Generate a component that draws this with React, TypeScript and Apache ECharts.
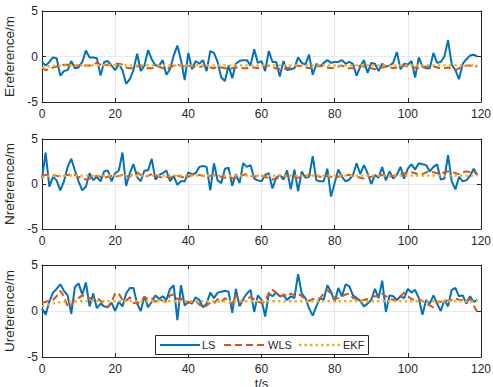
import React, { useEffect, useRef } from "react";
import * as echarts from "echarts";

const T: number[] = Array.from({ length: 120 }, (_, i) => i);

const E_LS = [
  -0.6, -1.0, -0.6, -0.1, -0.2, -2.1, -1.6, -1.5, -0.5, -1.3,
  -1.2, -0.6, 0.65, -0.1, -0.1, -0.2, -2.1, -0.6, -0.5, -1.0,
  -1.5, -0.8, -1.5, -3.0, -2.5, -1.5, 0.3, -1.6, -1.0, 0.7,
  -0.3, -1.0, -1.0, -0.4, -2.0, -1.4, 0.1, 1.2, -0.4, -2.6,
  0.4, -1.4, -0.5, -0.8, -0.4, -1.6, 0.6, 0.4, -0.6, -2.3,
  -2.7, -1.0, -2.4, -0.8, -0.5, -0.4, -0.4, -1.0, 0.8, -0.7,
  -0.5, -1.6, 0.6, -0.6, -0.6, -2.2, -0.5, -1.5, -1.4, -1.3,
  -0.1, -0.7, -0.9, 0.2, -2.0, -0.8, -1.1, -0.7, -0.4, -0.7,
  -0.6, -0.6, -0.4, -0.8, -0.6, -0.8, -2.1, -1.1, -0.4, -1.8,
  -0.7, -0.8, -1.6, -0.8, -1.1, -1.0, -0.7, 0.5, -1.4, -0.8,
  -0.9, -0.5, -2.3, -0.1, -1.1, -1.3, -1.3, 0.4, -0.7, -0.6,
  0.0, 1.8, -0.9, -1.5, -2.5, -0.8, -0.3, 0.1, 0.2, 0.0,
];
const E_WLS = [
  -1.2, -1.5, -1.4, -1.2, -1.1, -1.0, -0.9, -0.9, -1.0, -1.0,
  -1.0, -1.0, -1.0, -1.0, -0.9, -0.7, -0.9, -1.0, -0.9, -0.9,
  -0.8, -0.8, -0.9, -1.2, -1.3, -1.3, -1.1, -1.0, -1.2, -1.3,
  -1.3, -1.2, -1.1, -1.3, -1.4, -1.2, -1.0, -0.9, -1.0, -1.1,
  -1.0, -1.1, -1.2, -1.2, -1.0, -1.1, -1.2, -1.3, -1.1, -1.2,
  -1.3, -1.4, -1.3, -1.2, -1.2, -1.3, -1.3, -1.2, -1.2, -1.3,
  -1.2, -1.1, -1.0, -1.2, -1.3, -1.4, -1.4, -1.3, -1.2, -1.1,
  -1.0, -1.1, -1.2, -1.3, -1.2, -1.1, -1.0, -1.1, -1.2, -1.3,
  -1.2, -1.1, -1.0, -1.2, -1.3, -1.3, -1.1, -1.0, -1.1, -1.2,
  -1.3, -1.4, -1.3, -1.2, -1.1, -1.2, -1.3, -1.2, -1.1, -1.0,
  -1.1, -1.2, -1.2, -1.3, -1.2, -1.1, -1.0, -1.1, -1.2, -1.3,
  -1.3, -1.2, -1.4, -1.5, -1.3, -1.1, -1.0, -1.0, -1.1, -1.1,
];
const E_EKF = [
  -1.25, -1.15, -1.08, -1.04, -1.02, -1.0, -1.0, -0.99, -0.99, -0.98,
  -0.98, -0.98, -0.97, -0.97, -0.97, -0.96, -0.96, -0.96, -0.96, -0.96,
  -0.96, -0.96, -0.97, -0.97, -0.97, -0.97, -0.97, -0.97, -0.97, -0.97,
  -0.97, -0.97, -0.97, -0.98, -0.98, -0.98, -0.97, -0.97, -0.97, -0.97,
  -0.97, -0.97, -0.97, -0.97, -0.97, -0.97, -0.97, -0.98, -0.98, -0.98,
  -0.98, -0.98, -0.98, -0.98, -0.98, -0.98, -0.98, -0.98, -0.98, -0.98,
  -0.98, -0.98, -0.98, -0.98, -0.98, -0.98, -0.98, -0.98, -0.98, -0.98,
  -0.98, -0.98, -0.98, -0.98, -0.98, -0.98, -0.98, -0.98, -0.98, -0.98,
  -0.98, -0.98, -0.98, -0.98, -0.98, -0.98, -0.98, -0.98, -0.98, -0.98,
  -0.98, -0.98, -0.98, -0.98, -0.98, -0.98, -0.98, -0.97, -0.97, -0.97,
  -0.97, -0.97, -0.97, -0.97, -0.97, -0.97, -0.97, -0.97, -0.97, -0.97,
  -0.97, -0.97, -0.97, -0.97, -0.97, -0.97, -0.97, -0.97, -0.97, -0.97,
];

const N_LS = [
  0.6, 3.5, -0.3, 0.8, 0.4, -0.7, 0.3, 1.9, 2.8, 1.5,
  0.3, -0.7, -0.3, 1.2, 0.4, 0.8, 0.3, 1.4, 1.5, 0.3,
  1.2, 1.5, 3.5, -0.2, 1.2, 2.2, 0.8, 0.3, 1.5, 1.5,
  2.8, 0.5, 1.0, 1.2, 1.5, 0.3, 0.9, -0.1, 0.3, 0.3,
  1.3, 1.1, 1.2, 1.9, 2.0, 1.9, -0.7, 2.3, 0.4, 0.1,
  1.7, 1.8, -0.2, 1.1, 0.1, 2.3, 1.9, 2.1, 0.6, 0.4,
  0.3, 1.0, 1.2, -0.5, 0.7, 1.0, 0.5, 1.5, -0.6, 1.6,
  -0.8, 1.4, 0.7, 0.8, 3.1, 0.4, 0.3, 0.3, 1.7, -1.4,
  0.1, 1.6, 0.8, 0.3, 0.5, 1.0, 2.3, 1.1, 2.1, 1.2,
  0.0, 1.0, 0.7, 1.9, 0.4, 1.4, 0.6, 1.0, 1.9, 0.6,
  1.7, 2.2, 1.6, 2.3, 2.2, 2.1, 1.4, 1.9, 2.2, 0.5,
  0.6, 3.2, 0.3, -0.6, 0.8, 0.3, 0.4, 0.9, 1.7, 1.0,
];
const N_WLS = [
  0.9, 1.0, 1.1, 1.0, 0.9, 0.8, 0.9, 1.0, 1.1, 1.0,
  0.8, 0.6, 0.5, 0.6, 0.8, 0.9, 0.8, 0.7, 0.8, 0.9,
  0.8, 0.9, 1.0, 0.9, 0.8, 1.2, 1.3, 1.0, 0.8, 0.9,
  1.1, 1.0, 0.8, 0.7, 0.8, 0.7, 0.8, 0.9, 0.8, 0.7,
  0.8, 1.0, 1.1, 1.0, 0.9, 0.8, 0.9, 1.0, 0.9, 0.8,
  0.7, 0.8, 0.6, 0.7, 0.8, 1.0, 1.1, 0.9, 0.8, 0.9,
  0.9, 0.8, 0.6, 0.5, 0.6, 0.7, 0.8, 0.9, 0.9, 0.8,
  0.7, 0.8, 0.9, 1.0, 1.0, 0.9, 0.8, 0.8, 0.9, 0.8,
  0.7, 0.8, 0.9, 1.0, 1.0, 0.9, 0.8, 0.7, 0.6, 0.7,
  0.8, 0.9, 0.9, 1.0, 0.9, 0.8, 0.9, 1.0, 1.1, 1.2,
  1.2, 1.3, 1.2, 1.0, 1.1, 1.3, 1.4, 1.3, 1.2, 1.1,
  1.3, 1.4, 1.4, 1.2, 1.1, 1.3, 1.4, 1.3, 1.4, 1.0,
];
const N_EKF = [
  0.75, 0.82, 0.86, 0.88, 0.9, 0.91, 0.92, 0.92, 0.92, 0.93,
  0.93, 0.93, 0.93, 0.93, 0.93, 0.93, 0.93, 0.93, 0.93, 0.93,
  0.93, 0.93, 0.93, 0.93, 0.94, 0.94, 0.94, 0.94, 0.94, 0.94,
  0.94, 0.94, 0.94, 0.94, 0.94, 0.94, 0.94, 0.94, 0.94, 0.94,
  0.94, 0.94, 0.94, 0.94, 0.94, 0.94, 0.94, 0.94, 0.94, 0.94,
  0.94, 0.94, 0.94, 0.94, 0.94, 0.94, 0.94, 0.94, 0.94, 0.94,
  0.94, 0.94, 0.94, 0.94, 0.94, 0.94, 0.94, 0.94, 0.94, 0.94,
  0.94, 0.94, 0.94, 0.94, 0.94, 0.94, 0.94, 0.94, 0.94, 0.94,
  0.94, 0.94, 0.94, 0.94, 0.94, 0.94, 0.94, 0.94, 0.94, 0.94,
  0.94, 0.94, 0.94, 0.94, 0.94, 0.94, 0.94, 0.94, 0.94, 0.94,
  0.94, 0.94, 0.94, 0.94, 0.94, 0.94, 0.94, 0.94, 0.94, 0.94,
  0.94, 0.94, 0.94, 0.94, 0.94, 0.94, 0.94, 0.94, 0.94, 0.94,
];

const U_LS = [
  0.3, -0.4, 1.0, 2.0, 2.4, 2.9, 2.2, 1.7, -0.3, 2.6,
  3.0, 1.8, 3.1, 0.5, 1.9, 0.3, 0.8, 0.5, 0.4, 0.9,
  0.0, 1.0, 0.5, 1.9, 2.5, 2.5, 0.8, 0.0, 1.6, 0.4,
  1.0, 1.7, 1.3, 1.6, 1.2, 2.4, 2.8, -1.0, 2.8, 0.6,
  1.0, 0.8, 1.5, 1.2, 0.4, 0.8, 2.0, 1.4, 2.0, 2.1,
  2.2, 2.1, -0.2, 2.4, 0.5, 1.3, 1.9, 2.3, -0.1, 1.7,
  1.2, -0.6, 1.9, 1.6, 2.0, 1.6, 1.7, 1.2, 1.6, 1.4,
  4.0, 1.9, 1.4, 0.3, -0.5, 0.5, 1.4, 1.2, 2.8, 2.1,
  1.0, 2.5, 1.6, 2.9, 2.7, 1.7, 1.4, 1.1, 0.5, 0.8,
  1.2, 2.4, 1.4, 3.3, -0.1, 1.7, 1.6, 1.2, 1.6, 1.4,
  2.4, 2.0, 2.3, 1.4, -0.4, 1.2, 0.8, 1.7, 0.8, 0.0,
  1.2, 0.5, 2.3, 2.5, 1.6, 1.7, 0.8, 1.6, 1.0, 1.2,
];
const U_WLS = [
  0.9, 1.0, 1.1, 1.2, 1.6, 2.2, 1.6, 0.5, 0.6, 1.3,
  1.4, 1.7, 1.5, 1.4, 1.4, 1.5, 1.1, 0.8, 0.4, 1.0,
  1.9, 1.9, 1.2, 1.1, 1.5, 0.9, 0.8, 1.1, 1.5, 1.3,
  1.4, 1.0, 1.3, 1.1, 1.0, 1.7, 1.8, 1.3, 1.3, 1.2,
  0.9, 0.9, 1.1, 0.7, 0.4, 0.6, 0.9, 0.8, 1.3, 1.0,
  1.4, 1.1, 0.7, 1.8, 0.9, 1.2, 1.4, 1.5, 1.3, 1.0,
  0.9, 1.0, 2.0, 2.3, 2.0, 1.5, 1.8, 1.6, 1.9, 1.7,
  1.9, 1.6, 1.3, 1.1, 1.3, 1.3, 1.4, 1.9, 2.3, 1.9,
  1.3, 1.4, 1.6, 1.8, 1.9, 1.4, 1.3, 1.1, 1.2, 1.3,
  1.5, 1.6, 1.6, 1.9, 1.6, 1.4, 1.2, 1.2, 1.6, 2.0,
  1.6, 1.3, 1.2, 1.3, 1.1, 0.8, 0.6, 0.4, 0.9, 1.0,
  1.2, 1.1, 1.2, 1.4, 1.2, 1.2, 1.2, 1.3, 0.6, -0.1,
];
const U_EKF = [
  0.5, 0.62, 0.72, 0.82, 0.9, 0.96, 1.0, 1.02, 1.04, 1.05,
  1.06, 1.06, 1.07, 1.07, 1.07, 1.07, 1.07, 1.07, 1.07, 1.07,
  1.07, 1.07, 1.07, 1.07, 1.07, 1.07, 1.07, 1.07, 1.07, 1.07,
  1.06, 1.06, 1.06, 1.06, 1.06, 1.06, 1.06, 1.06, 1.06, 1.06,
  1.06, 1.06, 1.06, 1.06, 1.06, 1.06, 1.06, 1.06, 1.06, 1.06,
  1.06, 1.06, 1.06, 1.06, 1.06, 1.06, 1.06, 1.06, 1.06, 1.06,
  1.06, 1.06, 1.06, 1.06, 1.06, 1.06, 1.06, 1.06, 1.06, 1.06,
  1.06, 1.06, 1.06, 1.06, 1.06, 1.06, 1.06, 1.06, 1.06, 1.06,
  1.06, 1.06, 1.06, 1.06, 1.06, 1.06, 1.06, 1.06, 1.06, 1.06,
  1.06, 1.06, 1.06, 1.06, 1.06, 1.06, 1.06, 1.06, 1.06, 1.06,
  1.06, 1.06, 1.06, 1.06, 1.06, 1.06, 1.06, 1.06, 1.06, 1.06,
  1.06, 1.06, 1.06, 1.06, 1.06, 1.06, 1.06, 1.06, 1.06, 1.06,
];

const SERIES_NAMES = ["LS", "WLS", "EKF"];
const Y_NAMES = ["Ereference/m", "Nreference/m", "Ureference/m"];
const X_TICKS = [0, 20, 40, 60, 80, 100, 120];
const Y_TICKS = [-5, 0, 5];
const PANELS = [
  [E_LS, E_WLS, E_EKF],
  [N_LS, N_WLS, N_EKF],
  [U_LS, U_WLS, U_EKF],
];

const COLORS = ["#0072BD", "#D95319", "#EDB120"];
const DASHES: any[] = ["solid", [7, 4], [2.5, 3]];
const WIDTHS = [2, 2, 2.3];
const AX = "#262626";
const GRIDC = "#e8e8e8";
const FONT = "Liberation Sans, Arial, Helvetica, sans-serif";

export default function App() {
  const ref = useRef<HTMLDivElement>(null);
  useEffect(() => {
    if (!ref.current) return;
    const chart = echarts.init(ref.current, undefined, { renderer: "svg" });
    const tops = [11, 139, 265];
    const heights = [91, 90, 92];
    const grid = tops.map((t, i) => ({
      left: 42, right: 12, top: t, height: heights[i],
      containLabel: false, outerBoundsMode: "none",
    }));
    const xAxis: any[] = [];
    const yAxis: any[] = [];
    tops.forEach((_, i) => {
      xAxis.push({
        gridIndex: i, type: "value", min: X_TICKS[0], max: X_TICKS[X_TICKS.length - 1], interval: 20,
        position: "bottom",
        axisLine: { show: true, onZero: false, lineStyle: { color: AX, width: 1 } },
        axisTick: { show: true, inside: true, length: 4, lineStyle: { color: AX } },
        axisLabel: { color: AX, fontSize: 12, margin: 6, fontFamily: FONT },
        splitLine: { show: true, lineStyle: { color: GRIDC, width: 1 } },
        name: i === 2 ? "t/s" : "",
        nameLocation: "middle", nameGap: 20,
        nameTextStyle: { color: AX, fontSize: 13, fontFamily: FONT },
      });
      xAxis.push({
        gridIndex: i, type: "value", min: 0, max: 120, interval: 20, position: "top",
        axisLine: { show: true, onZero: false, lineStyle: { color: AX, width: 1 } },
        axisTick: { show: true, inside: true, length: 4, lineStyle: { color: AX } },
        axisLabel: { show: false }, splitLine: { show: false },
      });
      yAxis.push({
        gridIndex: i, type: "value", min: Y_TICKS[0], max: Y_TICKS[2], interval: 5, position: "left",
        axisLine: { show: true, onZero: false, lineStyle: { color: AX, width: 1 } },
        axisTick: { show: true, inside: true, length: 4, lineStyle: { color: AX } },
        axisLabel: { color: AX, fontSize: 12, margin: 4, fontFamily: FONT },
        splitLine: { show: true, lineStyle: { color: GRIDC, width: 1 } },
        name: Y_NAMES[i], nameLocation: "middle", nameGap: 22,
        nameTextStyle: { color: AX, fontSize: 13.5, fontFamily: FONT },
      });
      yAxis.push({
        gridIndex: i, type: "value", min: -5, max: 5, interval: 5, position: "right",
        axisLine: { show: true, onZero: false, lineStyle: { color: AX, width: 1 } },
        axisTick: { show: true, inside: true, length: 4, lineStyle: { color: AX } },
        axisLabel: { show: false }, splitLine: { show: false },
      });
    });
    const series: any[] = [];
    PANELS.forEach((vals, i) => {
      vals.forEach((arr, k) => {
        series.push({
          type: "line", name: SERIES_NAMES[k], xAxisIndex: 2 * i, yAxisIndex: 2 * i,
          data: T.map((t, j) => [t, arr[j]]),
          showSymbol: false, symbol: "none",
          lineStyle: { color: COLORS[k], width: WIDTHS[k], type: DASHES[k] },
          itemStyle: { color: COLORS[k] },
          z: 2 + k,
        });
      });
    });
    // legend box drawn as graphic (MATLAB style)
    const LEG = { x: 155.5, y: 335.5, w: 213, h: 19 };
    const items = [
      { x1: 160, x2: 200, tx: 202 },
      { x1: 224, x2: 265, tx: 268 },
      { x1: 299, x2: 340, tx: 343 },
    ];
    const ly = LEG.y + LEG.h / 2;
    const graphic: any[] = [
      {
        type: "rect", z: 100, shape: { x: LEG.x, y: LEG.y, width: LEG.w, height: LEG.h },
        style: { fill: "#ffffff", stroke: AX, lineWidth: 1 },
      },
    ];
    items.forEach((it, k) => {
      graphic.push({
        type: "line", z: 101, shape: { x1: it.x1, y1: ly, x2: it.x2, y2: ly },
        style: { stroke: COLORS[k], lineWidth: WIDTHS[k], lineDash: k === 0 ? null : DASHES[k] },
      });
      graphic.push({
        type: "text", z: 101, x: it.tx, y: ly,
        style: {
          text: SERIES_NAMES[k], fill: AX, fontSize: 11, fontFamily: FONT,
          textAlign: "left", textVerticalAlign: "middle", verticalAlign: "middle",
        },
      });
    });
    chart.setOption({
      animation: false,
      backgroundColor: "#ffffff",
      textStyle: { fontFamily: FONT },
      grid, xAxis, yAxis, series, graphic,
    });
    return () => chart.dispose();
  }, []);
  return (
    <div style={{ position: "fixed", left: 0, top: 0, width: 493, height: 387, background: "#fff" }}>
      <div ref={ref} style={{ width: 493, height: 387 }} />
    </div>
  );
}
